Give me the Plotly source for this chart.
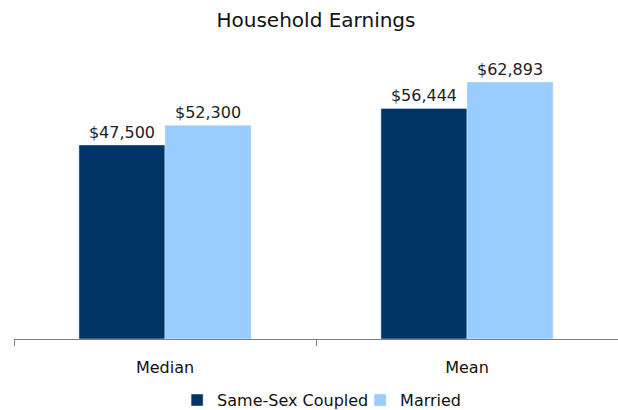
import plotly.graph_objects as go

categories = ["Median", "Mean"]
same_sex = [47500, 56444]
married = [52300, 62893]
series_names = ["Same-Sex Coupled", "Married"]

font_family = "'DejaVu Sans', Verdana, sans-serif"

fig = go.Figure()
fig.add_trace(go.Bar(
    x=categories, y=same_sex, name=series_names[0],
    marker_color="#003366",
    texttemplate="$%{y:,}", textposition="outside",
    textfont=dict(size=16, color="#222222", family=font_family),
    cliponaxis=False,
))
fig.add_trace(go.Bar(
    x=categories, y=married, name=series_names[1],
    marker_color="#99ccff",
    texttemplate="$%{y:,}", textposition="outside",
    textfont=dict(size=16, color="#222222", family=font_family),
    cliponaxis=False,
))

fig.update_layout(
    width=618, height=410,
    barmode="group", bargap=0.43, bargroupgap=0,
    plot_bgcolor="white", paper_bgcolor="white",
    font=dict(family=font_family, color="#222222"),
    title=dict(text="Household Earnings", xref="paper", x=0.5, xanchor="center",
               y=0.951, yanchor="middle",
               font=dict(size=20, color="#111111", family=font_family)),
    margin=dict(l=14, r=0, t=53, b=71, autoexpand=False),
    showlegend=True,
    legend=dict(orientation="h", x=0.573, xanchor="center",
                yref="container", y=0.024, yanchor="middle",
                font=dict(size=16, color="#111111", family=font_family),
                itemwidth=30, tracegroupgap=0,
                entrywidth=138, entrywidthmode="pixels"),
)
fig.update_xaxes(
    showline=True, linecolor="#808080", linewidth=1,
    ticks="outside", tickson="boundaries", ticklen=6, tickcolor="#808080",
    tickfont=dict(size=16, color="#111111", family=font_family),
    showgrid=False, ticklabelstandoff=14, automargin=False,
)
fig.update_yaxes(range=[0, 70000], visible=False, showgrid=False)

fig.write_html(
    "out.html",
    config={"displayModeBar": False},
    post_script="document.body.style.margin='0';document.body.style.overflow='hidden';",
)
